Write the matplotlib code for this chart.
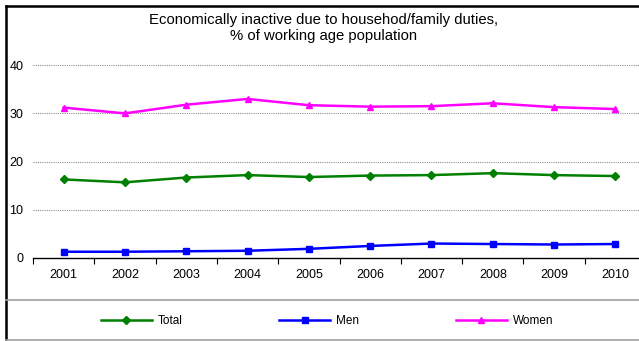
import matplotlib
matplotlib.use("Agg")
import matplotlib.pyplot as plt
from matplotlib.lines import Line2D

plt.rcParams['font.family'] = ['Liberation Sans', 'DejaVu Sans']

years = ['2001', '2002', '2003', '2004', '2005', '2006', '2007', '2008', '2009', '2010']
total = [16.3, 15.7, 16.7, 17.2, 16.8, 17.1, 17.2, 17.6, 17.2, 17.0]
men = [1.3, 1.3, 1.4, 1.5, 1.9, 2.5, 3.0, 2.9, 2.8, 2.9]
women = [31.2, 30.0, 31.8, 33.0, 31.7, 31.4, 31.5, 32.1, 31.3, 30.9]
yticks = [0, 10, 20, 30, 40]

W, H = 639, 341
fig = plt.figure(figsize=(W / 100, H / 100), dpi=100)

# outer frame: black top/left, grey bottom, grey separator above legend
fig.add_artist(Line2D([6 / W, 6 / W], [0, 1 - 6 / H], color='black', lw=1.8))
fig.add_artist(Line2D([6 / W, 1], [1 - 6 / H, 1 - 6 / H], color='black', lw=1.8))
fig.add_artist(Line2D([6 / W, 1], [1 - 340 / H, 1 - 340 / H], color='#a0a0a0', lw=1.2))
fig.add_artist(Line2D([6 / W, 1], [1 - 300 / H, 1 - 300 / H], color='#a0a0a0', lw=1.2))

# plot area (px): left 33, zero line at y=258, 10 units = 48.2 px
x0, y0 = 33, 258
px_unit = 4.82
ymax = 42.5
ax_w = 61.3 * len(years)
ax_h = px_unit * ymax
ax = fig.add_axes([x0 / W, 1 - y0 / H, ax_w / W, ax_h / H])
ax.set_xlim(-0.5, len(years) - 0.5)
ax.set_ylim(0, ymax)

x = range(len(years))
ax.plot(x, total, color='#008000', lw=1.8, marker='D', ms=4, label='Total')
ax.plot(x, men, color='#0000ff', lw=1.8, marker='s', ms=5, label='Men')
ax.plot(x, women, color='#ff00ff', lw=1.8, marker='^', ms=5, label='Women')

for v in yticks[1:]:
    ax.axhline(v, color='#909090', lw=0.8, ls=(0, (1, 1)), zorder=0)

for s in ['top', 'right', 'left']:
    ax.spines[s].set_visible(False)
ax.spines['bottom'].set_linewidth(1.0)
ax.set_yticks(yticks)
ax.tick_params(axis='y', length=0, labelsize=9, pad=7)
ax.set_xticks(x)
ax.set_xticklabels(years)
ax.tick_params(axis='x', length=0, labelsize=9, pad=8)
ax.set_xticks([i - 0.5 for i in range(len(years) + 1)], minor=True)
ax.tick_params(axis='x', which='minor', length=4, width=0.8, direction='out')

fig.text(324 / W, 1 - 28 / H, 'Economically inactive due to househod/family duties,\n% of working age population',
         ha='center', va='center', fontsize=10.7, linespacing=1.25)

ax.legend(loc='center', bbox_to_anchor=(327 / W, 1 - 321 / H), bbox_transform=fig.transFigure,
          ncol=3, frameon=False, fontsize=8.5, handlelength=4.3, columnspacing=8.2, handletextpad=0.5)

fig.savefig('out.png', dpi=100)
